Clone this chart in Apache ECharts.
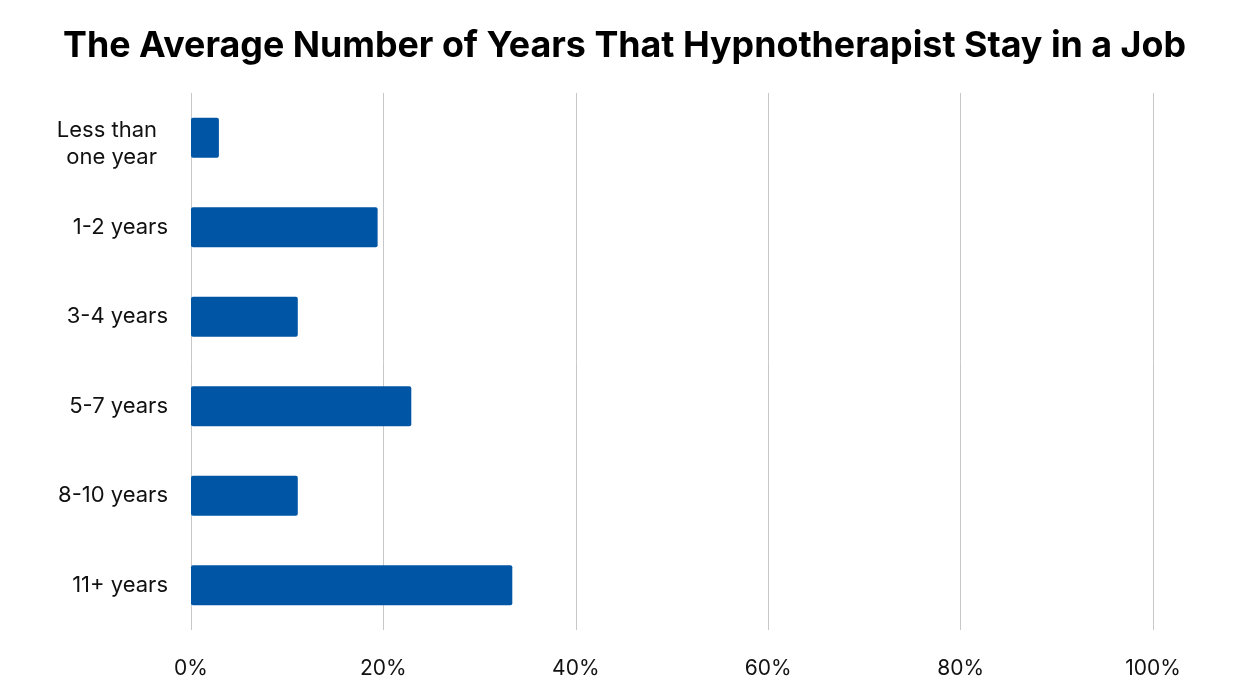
<!DOCTYPE html>
<html>
<head>
<meta charset="utf-8">
<script src="https://cdn.jsdelivr.net/npm/echarts@6/dist/echarts.min.js"></script>
<style>html,body{margin:0;padding:0;background:#fff}#chart{width:1251px;height:697px}</style>
</head>
<body>
<div id="chart"></div>
<script>
const titleText = 'The Average Number of Years That Hypnotherapist Stay in a Job';
const categories = ['Less than\none year', '1-2 years', '3-4 years', '5-7 years', '8-10 years', '11+ years'];
const values = [2.9, 19.4, 11.1, 22.9, 11.1, 33.4];
const xTicks = [0, 20, 40, 60, 80, 100];

const chart = echarts.init(document.getElementById('chart'));
const FONT = 'Inter';
chart.setOption({
  backgroundColor: '#fff',
  animation: false,
  title: {
    text: titleText, left: 58, top: 23,
    textStyle: { fontFamily: FONT, fontWeight: 700, fontSize: 35.8, color: '#000' }
  },
  grid: { left: 191, right: 98, top: 93, bottom: 67, containLabel: false },
  xAxis: {
    type: 'value', min: xTicks[0], max: xTicks[xTicks.length - 1], interval: 20,
    axisLine: { show: false }, axisTick: { show: false },
    splitLine: { show: true, lineStyle: { color: '#c8c8c8', width: 1 } },
    axisLabel: { formatter: v => v + '%', margin: 28, fontFamily: FONT, fontSize: 21, color: '#111' }
  },
  yAxis: {
    type: 'category', inverse: true,
    data: categories.map(c => c.indexOf('\n') >= 0
      ? { value: c, textStyle: { padding: [0, 11, 0, 0] } }
      : c),
    axisLine: { show: false }, axisTick: { show: false },
    axisLabel: {
      margin: 23, fontFamily: FONT, fontSize: 22, color: '#111', lineHeight: 27, align: 'right',
      formatter: v => v.indexOf('\n') >= 0
        ? '{s| }\n' + v.split('\n').map(l => '{t|' + l + '}').join('\n')
        : v,
      rich: {
        s: { fontSize: 1, lineHeight: 13, height: 13 },
        t: { fontFamily: FONT, fontSize: 22, lineHeight: 27, color: '#111' }
      }
    }
  },
  series: [{
    type: 'bar', data: values, barWidth: 40,
    itemStyle: { color: '#0055a5', borderRadius: 2 }
  }]
});
</script>
</body>
</html>
